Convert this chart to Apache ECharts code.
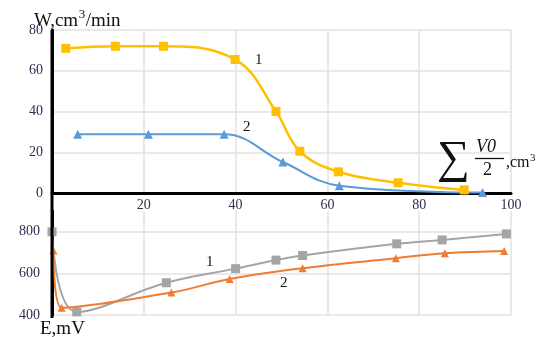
<!DOCTYPE html>
<html>
<head>
<meta charset="utf-8">
<script src="https://cdn.jsdelivr.net/npm/echarts@6/dist/echarts.min.js"></script>
<style>
  html, body { margin: 0; padding: 0; background: #fff; }
  #chart { width: 556px; height: 337px; }
</style>
</head>
<body>
<div id="chart"></div>
<script>
// Flow rate W vs cumulative volume (upper panel)
var w1X = [3, 13.8, 24.3, 39.9, 48.8, 54, 62.4, 75.4, 89.8];
var w1Y = [71, 72, 72, 65.5, 40, 20.5, 10.4, 5, 1.5];
var w2X = [5.6, 21, 37.5, 50.3, 62.6, 93.8];
var w2Y = [28.8, 28.8, 28.8, 15.2, 3.6, 0.2];

// Potential E vs cumulative volume (lower panel)
var e1X = [0, 5.4, 24.9, 40, 48.8, 54.6, 75.1, 85, 99];
var e1Y = [800, 415, 555, 623, 664, 686, 742, 761, 790];
var e2X = [0.3, 2.1, 26, 38.7, 54.6, 74.9, 85.6, 98.5];
var e2Y = [710, 435, 508, 573, 625, 673, 697, 708];

var xTicks = [0, 20, 40, 60, 80, 100];
var wTicks = [0, 20, 40, 60, 80];
var eTicks = [400, 600, 800];

function pairs(xs, ys) { return xs.map(function (x, i) { return [x, ys[i]]; }); }

var serif = '"Liberation Serif", "DejaVu Serif", serif';
var tickColor = '#2a2f52';
var gridColor = '#e2e2e2';

var chart = echarts.init(document.getElementById('chart'), null, { renderer: 'canvas' });

var option = {
  animation: false,
  backgroundColor: '#ffffff',
  grid: [
    { left: 52, right: 45, top: 30, height: 163 },
    { left: 52, right: 45, top: 211, height: 104 }
  ],
  xAxis: [
    {
      gridIndex: 0, type: 'value',
      min: xTicks[0], max: xTicks[xTicks.length - 1], interval: 20,
      axisLine: { show: true, lineStyle: { color: '#000', width: 3 } },
      axisTick: { show: false },
      axisLabel: { color: tickColor, fontFamily: serif, fontSize: 14, margin: 5, showMinLabel: false },
      splitLine: { show: true, lineStyle: { color: gridColor, width: 1.5 } }
    },
    {
      gridIndex: 1, type: 'value',
      min: xTicks[0], max: xTicks[xTicks.length - 1], interval: 20,
      axisLine: { show: false },
      axisTick: { show: false },
      axisLabel: { show: false },
      splitLine: { show: true, lineStyle: { color: gridColor, width: 1.5 } }
    }
  ],
  yAxis: [
    {
      gridIndex: 0, type: 'value',
      min: wTicks[0], max: wTicks[wTicks.length - 1], interval: 20,
      axisLine: { show: true, lineStyle: { color: '#000', width: 3 } },
      axisTick: { show: false },
      axisLabel: { color: tickColor, fontFamily: serif, fontSize: 14, margin: 9 },
      splitLine: { show: true, lineStyle: { color: gridColor, width: 1.5 } }
    },
    {
      gridIndex: 1, type: 'value',
      min: eTicks[0], max: 900, interval: 200,
      axisLine: { show: true, lineStyle: { color: '#000', width: 3 } },
      axisTick: { show: false },
      axisLabel: { color: tickColor, fontFamily: serif, fontSize: 14, margin: 12, showMaxLabel: false },
      splitLine: { show: true, showMaxLine: false, lineStyle: { color: gridColor, width: 1.5 } }
    }
  ],
  series: [
    {
      type: 'line', xAxisIndex: 0, yAxisIndex: 0, data: pairs(w1X, w1Y),
      smooth: 0.4, symbol: 'rect', symbolSize: 9,
      lineStyle: { color: '#FFC000', width: 2.5 }, itemStyle: { color: '#FFC000' }, z: 4
    },
    {
      type: 'line', xAxisIndex: 0, yAxisIndex: 0, data: pairs(w2X, w2Y),
      smooth: 0.4, symbol: 'triangle', symbolSize: 9,
      lineStyle: { color: '#5B9BD5', width: 2 }, itemStyle: { color: '#5B9BD5' }, z: 3
    },
    {
      type: 'line', xAxisIndex: 1, yAxisIndex: 1, data: pairs(e1X, e1Y),
      smooth: 0.4, symbol: 'rect', symbolSize: 9,
      lineStyle: { color: '#A5A5A5', width: 2 }, itemStyle: { color: '#A5A5A5' }, z: 3
    },
    {
      type: 'line', xAxisIndex: 1, yAxisIndex: 1, data: pairs(e2X, e2Y),
      smooth: 0.4, symbol: 'triangle', symbolSize: 8,
      lineStyle: { color: '#ED7D31', width: 2 }, itemStyle: { color: '#ED7D31' }, z: 4
    }
  ]
};
chart.setOption(option);

// Continuous black left axis joining both panels, plus titles and curve numbers
var topPx = chart.convertToPixel({ xAxisIndex: 0, yAxisIndex: 0 }, [0, wTicks[wTicks.length - 1]]);
var botPx = chart.convertToPixel({ xAxisIndex: 1, yAxisIndex: 1 }, [0, eTicks[0]]);

var measureCtx = document.createElement('canvas').getContext('2d');
function textWidth(s, font) { measureCtx.font = font; return measureCtx.measureText(s).width; }

var txt = function (x, y, s, size, extra) {
  return Object.assign({
    type: 'text', x: x, y: y, z: 10,
    style: { text: s, fill: '#111', font: size + 'px ' + serif, textVerticalAlign: 'middle' }
  }, extra || {});
};

// Text with a superscript "3" placed right after its base part
function withCube(x, y, base, tail, size, supSize) {
  var w1 = textWidth(base, size + 'px ' + serif);
  var w2 = textWidth('3', supSize + 'px ' + serif);
  var items = [txt(x, y, base, size), txt(x + w1 + 0.5, y - size * 0.32, '3', supSize)];
  if (tail) items.push(txt(x + w1 + w2 + 1, y, tail, size));
  return items;
}

var graphics = [
  { type: 'line', z: 9, shape: { x1: topPx[0], y1: topPx[1], x2: botPx[0], y2: botPx[1] + 3 },
    style: { stroke: '#000', lineWidth: 3 } },
  txt(40, 329, 'E,mV', 19),
  txt(255, 60, '1', 15),
  txt(243, 127, '2', 15),
  txt(206, 262, '1', 15),
  txt(280, 283, '2', 15),
  txt(437, 160, '\u2211', 46),
  { type: 'text', x: 476, y: 147, z: 10,
    style: { text: 'V0', fill: '#111', font: 'italic 18px ' + serif, textVerticalAlign: 'middle' } },
  { type: 'line', z: 10, shape: { x1: 475, y1: 158.5, x2: 504, y2: 158.5 },
    style: { stroke: '#111', lineWidth: 1.3 } },
  txt(483, 170, '2', 18)
].concat(withCube(34, 21, 'W,cm', '/min', 19, 13), withCube(506, 163, ',cm', '', 16, 11));

chart.setOption({ graphic: graphics });
</script>
</body>
</html>
